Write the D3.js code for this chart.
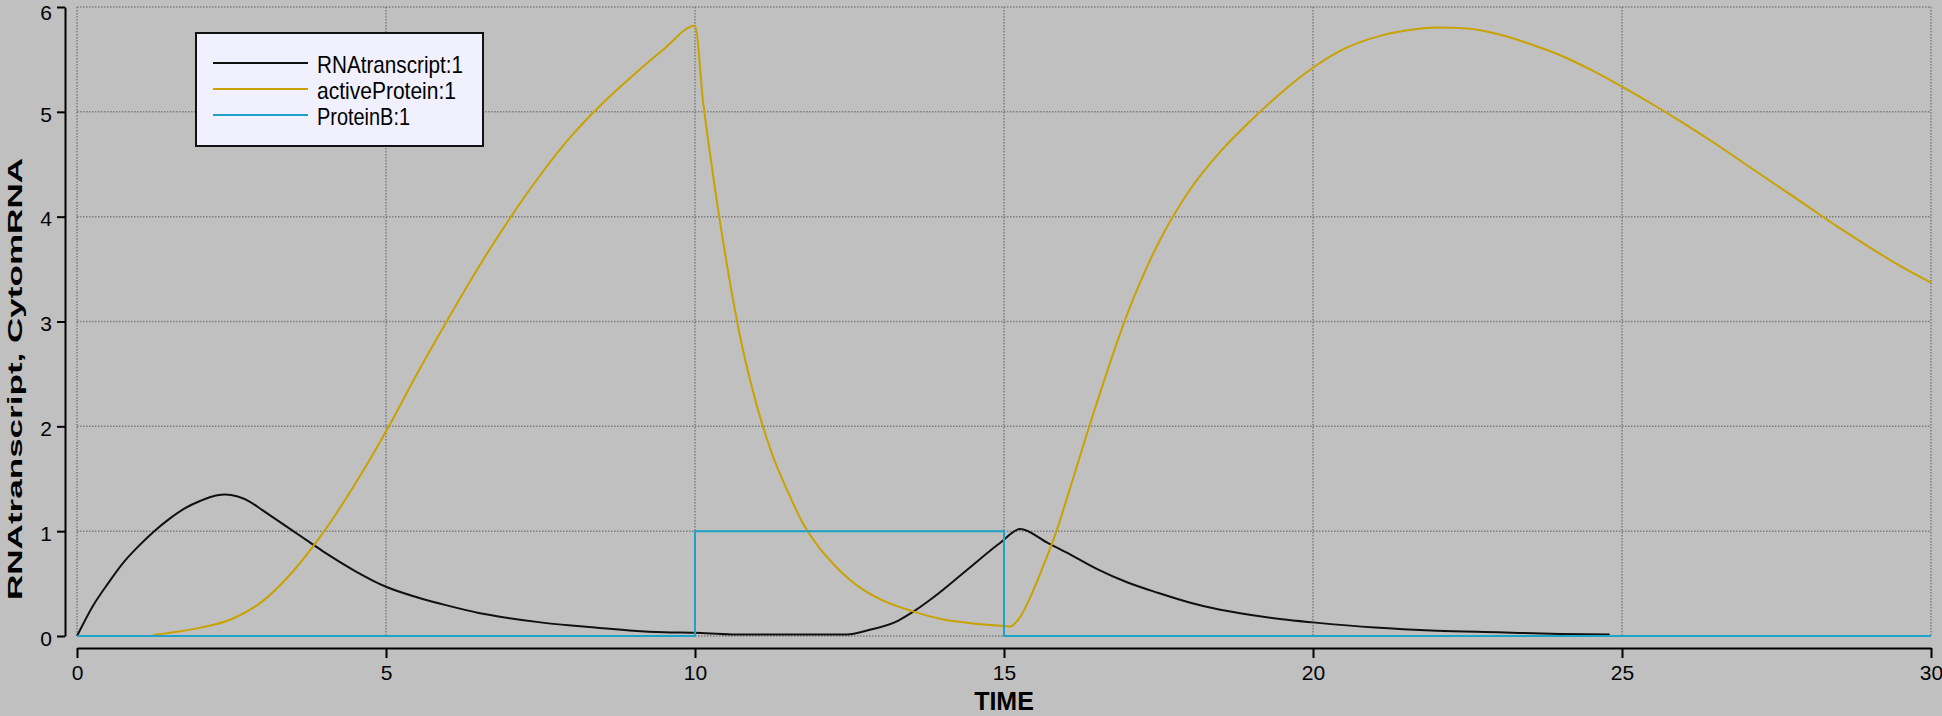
<!DOCTYPE html>
<html>
<head>
<meta charset="utf-8">
<script src="https://cdn.jsdelivr.net/npm/d3@7"></script>
<style>
  html, body { margin: 0; padding: 0; background: #c0c0c0; }
  svg { display: block; }
  text { font-family: "Liberation Sans", Arial, sans-serif; fill: #000; }
</style>
</head>
<body>
<svg id="chart" width="1942" height="716"></svg>
<script>
// Simulation output: time axis and three species
const xTicks = [0, 5, 10, 15, 20, 25, 30];
const yTicks = [0, 1, 2, 3, 4, 5, 6];

const seriesNames = ["RNAtranscript:1", "activeProtein:1", "ProteinB:1"];
const seriesColors = ["#101010", "#c8a200", "#1ea2c8"];

const rnaTime = [0, 0.25, 0.5, 0.75, 1, 1.25, 1.5, 1.75, 2, 2.25, 2.4, 2.6, 2.8, 3, 3.25, 3.5, 3.75, 4, 4.5, 5, 5.5, 6, 6.5, 7, 7.5, 8, 8.5, 9, 9.5, 10, 10.6, 11.5, 12.46, 12.8, 13.3, 13.5, 13.86, 14.4, 14.94, 15.26, 15.7, 16, 16.5, 17, 17.5, 18, 18.5, 19, 19.5, 20, 21, 22, 23, 24, 24.8];
const rnaValues = [0, 0.28, 0.5, 0.7, 0.86, 1.0, 1.12, 1.22, 1.29, 1.34, 1.35, 1.33, 1.28, 1.2, 1.1, 1.0, 0.9, 0.8, 0.62, 0.47, 0.37, 0.29, 0.22, 0.17, 0.13, 0.1, 0.075, 0.05, 0.035, 0.03, 0.015, 0.015, 0.015, 0.055, 0.15, 0.22, 0.37, 0.63, 0.89, 1.02, 0.89, 0.8, 0.64, 0.51, 0.41, 0.32, 0.25, 0.2, 0.16, 0.13, 0.08, 0.05, 0.035, 0.02, 0.015];

const activeTime = [1.23, 1.5, 2, 2.5, 3, 3.5, 4, 4.5, 5, 5.5, 6, 6.5, 7, 7.5, 8, 8.5, 9, 9.5, 10, 10.13, 10.25, 10.5, 10.75, 11, 11.25, 11.5, 11.75, 12, 12.25, 12.5, 12.75, 13, 13.5, 14, 14.5, 15, 15.1, 15.26, 15.47, 15.67, 15.85, 16, 16.5, 17, 17.5, 18, 18.5, 19, 19.5, 20, 20.5, 21, 21.5, 22, 22.5, 23, 23.5, 24, 24.5, 25, 25.5, 26, 26.5, 27, 27.5, 28, 28.5, 29, 29.5, 30];
const activeValues = [0.01, 0.03, 0.08, 0.16, 0.33, 0.62, 1.0, 1.45, 1.95, 2.5, 3.02, 3.52, 3.98, 4.4, 4.77, 5.08, 5.35, 5.6, 5.82, 5.1, 4.57, 3.6, 2.8, 2.2, 1.73, 1.38, 1.07, 0.85, 0.68, 0.54, 0.43, 0.35, 0.24, 0.16, 0.12, 0.095, 0.09, 0.18, 0.43, 0.72, 1.0, 1.28, 2.22, 3.08, 3.75, 4.25, 4.62, 4.92, 5.19, 5.42, 5.6, 5.71, 5.775, 5.805, 5.795, 5.74, 5.65, 5.54, 5.4, 5.24, 5.07, 4.89, 4.7, 4.5, 4.3, 4.1, 3.9, 3.71, 3.53, 3.37];

const proteinBTime = [0, 10, 10, 15, 15, 30];
const proteinBValues = [0, 0, 1, 1, 0, 0];

const svg = d3.select("#chart");

const plot = { left: 77, right: 1931, top: 7, bottom: 636 };
const x = d3.scaleLinear().domain([0, 30]).range([plot.left, plot.right]);
const y = d3.scaleLinear().domain([0, 6]).range([plot.bottom, plot.top]);

// background
svg.append("rect").attr("width", 1942).attr("height", 716).attr("fill", "#c0c0c0");

// dotted grid
const grid = svg.append("g")
  .attr("stroke", "#7c7c7c").attr("stroke-width", 1.5).attr("stroke-dasharray", "1.5,1.5");
grid.selectAll("line.v").data(xTicks).join("line")
  .attr("x1", d => x(d)).attr("x2", d => x(d))
  .attr("y1", plot.top).attr("y2", plot.bottom);
grid.selectAll("line.h").data(yTicks).join("line")
  .attr("y1", d => y(d)).attr("y2", d => y(d))
  .attr("x1", plot.left).attr("x2", plot.right);

// axes, offset from the plot area
const yAxis = svg.append("g")
  .attr("transform", "translate(65,0)")
  .call(d3.axisLeft(y).tickValues(yTicks).tickFormat(d3.format("d"))
    .tickSize(8).tickSizeOuter(0).tickPadding(5));
const xAxis = svg.append("g")
  .attr("transform", "translate(0,648)")
  .call(d3.axisBottom(x).tickValues(xTicks).tickFormat(d3.format("d"))
    .tickSize(10).tickSizeOuter(0).tickPadding(7));

[yAxis, xAxis].forEach(g => {
  g.select(".domain").attr("stroke", "#000").attr("stroke-width", 2);
  g.selectAll(".tick line").attr("stroke", "#000").attr("stroke-width", 2);
  g.selectAll(".tick text")
    .attr("font-family", "Liberation Sans, Arial, sans-serif")
    .attr("font-size", 21).attr("fill", "#000");
});
// keep the topmost label inside the frame
yAxis.selectAll(".tick text").attr("dy", d => d === 6 ? "12px" : "0.44em");

// axis titles
svg.append("text")
  .attr("x", x(15)).attr("y", 710)
  .attr("text-anchor", "middle")
  .attr("font-weight", "bold").attr("font-size", 25)
  .text("TIME");
svg.append("text")
  .attr("transform", "translate(22,379) rotate(-90)")
  .attr("text-anchor", "middle")
  .attr("font-weight", "bold").attr("font-size", 21)
  .attr("textLength", 442).attr("lengthAdjust", "spacingAndGlyphs")
  .text("RNAtranscript, CytomRNA");

// series
const series = [
  { t: rnaTime, v: rnaValues, curve: d3.curveMonotoneX },
  { t: activeTime, v: activeValues, curve: d3.curveMonotoneX },
  { t: proteinBTime, v: proteinBValues, curve: d3.curveLinear }
];

svg.append("defs").append("clipPath").attr("id", "plotclip")
  .append("rect")
  .attr("x", plot.left - 2).attr("y", plot.top - 2)
  .attr("width", plot.right - plot.left + 4).attr("height", plot.bottom - plot.top + 4);

const lines = svg.append("g").attr("clip-path", "url(#plotclip)");
series.forEach((s, i) => {
  const pts = s.t.map((t, k) => [t, s.v[k]]);
  const line = d3.line().x(d => x(d[0])).y(d => y(d[1])).curve(s.curve);
  lines.append("path")
    .attr("d", line(pts))
    .attr("fill", "none")
    .attr("stroke", seriesColors[i])
    .attr("stroke-width", 2)
    .attr("stroke-linejoin", "round");
});

// legend
const legend = svg.append("g");
legend.append("rect")
  .attr("x", 196).attr("y", 33).attr("width", 287).attr("height", 113)
  .attr("fill", "#f0f0fe").attr("stroke", "#111").attr("stroke-width", 2);
const legendWidths = [146, 139, 93];
seriesNames.forEach((name, i) => {
  const ly = 63 + i * 26;
  legend.append("line")
    .attr("x1", 213).attr("x2", 308).attr("y1", ly).attr("y2", ly)
    .attr("stroke", seriesColors[i]).attr("stroke-width", 2);
  legend.append("text")
    .attr("x", 317).attr("y", ly + 10)
    .attr("font-size", 24)
    .attr("textLength", legendWidths[i]).attr("lengthAdjust", "spacingAndGlyphs")
    .text(name);
});
</script>
</body>
</html>
